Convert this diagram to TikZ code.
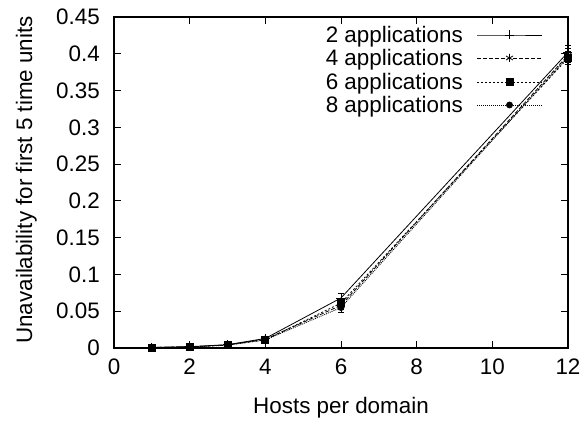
\documentclass[tikz,border=0pt]{standalone}
\usepackage{fontspec}
\setmainfont{Liberation Sans}
\usetikzlibrary{plotmarks}

\begin{document}
\begin{tikzpicture}[x=1pt,y=1pt,
    lbl/.style={font=\fontsize{22.4}{27}\selectfont,inner sep=0pt},
    curve/.style={line width=0.8pt,mark size=3.5pt,mark options={solid,line width=0.8pt}},
    errbar/.style={line width=0.6pt}]
    \useasboundingbox (0,0) rectangle (584,424);

    % axis labels
    \node[lbl,anchor=base] (xlabel) at (341,11) {Hosts per domain};
    \node[lbl,anchor=base,rotate=90] (ylabel) at (32,244) {Unavailability for first 5 time units};

    % plot area
    \begin{scope}[shift={(114,76)},x=37.83pt,y=735.6pt]
      \draw[line width=1.2pt] (0,0) rectangle (12,0.45);
      \foreach \t in {0,2,...,12} {
        \draw[line width=0.8pt] (\t,0) -- ++(0,7pt);
        \draw[line width=0.8pt] (\t,0.45) -- ++(0,-7pt);
        \node[lbl,anchor=north,yshift=-11pt] (xt\t) at (\t,0) {\t};
      }
      \foreach \v [count=\i] in {0,0.05,0.1,0.15,0.2,0.25,0.3,0.35,0.4,0.45} {
        \draw[line width=0.8pt] (0,\v) -- ++(7pt,0);
        \draw[line width=0.8pt] (12,\v) -- ++(-7pt,0);
        \node[lbl,anchor=east,xshift=-14pt] (yt\i) at (0,\v) {\v};
      }

      % 2 applications
      \draw[curve,mark=+,mark size=4.5pt] plot coordinates {(1,0.0008) (2,0.0018) (3,0.0045) (4,0.013) (6,0.068) (12,0.402)};
      % 4 applications
      \draw[curve,dash pattern=on 4pt off 2pt,mark=asterisk,mark size=4pt] plot coordinates {(1,0.0007) (2,0.0016) (3,0.0042) (4,0.012) (6,0.058) (12,0.398)};
      % 6 applications
      \draw[curve,dash pattern=on 2pt off 2pt,mark=square*] plot coordinates {(1,0.0007) (2,0.0015) (3,0.004) (4,0.011) (6,0.061) (12,0.394)};
      % 8 applications
      \draw[curve,dash pattern=on 1pt off 1pt,mark=*,mark size=3pt] plot coordinates {(1,0.0006) (2,0.0014) (3,0.0038) (4,0.011) (6,0.055) (12,0.396)};

      % error bars
      \foreach \px/\py/\pe in {4/0.013/0.003, 6/0.068/0.007, 12/0.402/0.009,
                               4/0.012/0.003, 6/0.058/0.006, 12/0.398/0.009,
                               6/0.061/0.006, 12/0.394/0.008,
                               6/0.055/0.006, 12/0.396/0.008} {
        \draw[errbar] (\px,\py-\pe) -- (\px,\py+\pe);
        \draw[errbar] (\px,\py+\pe) ++(-3pt,0) -- ++(6pt,0);
        \draw[errbar] (\px,\py-\pe) ++(-3pt,0) -- ++(6pt,0);
      }
    \end{scope}

    % key
    \node[lbl,anchor=base east] (key2) at (463,381) {2 applications};
    \node[lbl,anchor=base east] (key4) at (463,358) {4 applications};
    \node[lbl,anchor=base east] (key6) at (463,334) {6 applications};
    \node[lbl,anchor=base east] (key8) at (463,311) {8 applications};
    \draw[curve,mark=+,mark size=4.5pt,mark indices={2}] plot coordinates {(477,389) (509.5,389) (542,389)};
    \draw[curve,dash pattern=on 4pt off 2pt,mark=asterisk,mark size=4pt,mark indices={2}] plot coordinates {(477,366) (509.5,366) (542,366)};
    \draw[curve,dash pattern=on 2pt off 2pt,mark=square*,mark indices={2}] plot coordinates {(477,342) (509.5,342) (542,342)};
    \draw[curve,dash pattern=on 1pt off 1pt,mark=*,mark size=3pt,mark indices={2}] plot coordinates {(477,319) (509.5,319) (542,319)};
  \end{tikzpicture}
\end{document}
